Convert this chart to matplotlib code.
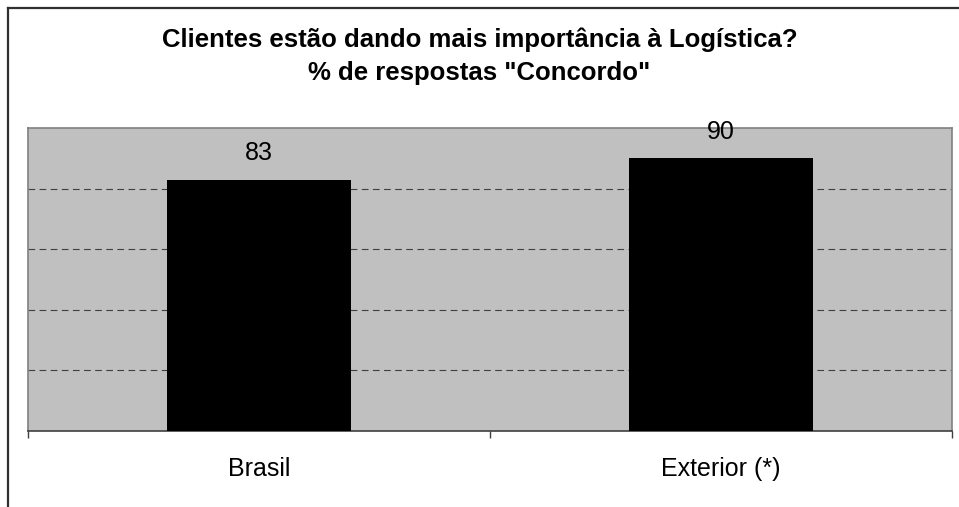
import matplotlib.pyplot as plt
from matplotlib.lines import Line2D

# data
categorias = ["Brasil", "Exterior (*)"]
concordo = [83, 90]
titulo = 'Clientes estão dando mais importância à Logística?\n% de respostas "Concordo"'

plt.rcParams['font.family'] = ['Liberation Sans', 'DejaVu Sans']

fig = plt.figure(figsize=(9.59, 5.07), dpi=100)
ax = fig.add_axes([0.0292, 0.1499, 0.9635, 0.5976])

x = range(len(categorias))
bars = ax.bar(x, concordo, width=0.40, color='black', zorder=3)
for b, v in zip(bars, concordo):
    ax.annotate(str(v), (b.get_x() + b.get_width() / 2, v), xytext=(0, 10.5),
                textcoords='offset points', ha='center', va='bottom',
                fontsize=18, zorder=4, annotation_clip=False)

ax.set_xlim(-0.5, len(categorias) - 0.5)
ax.set_ylim(0, 100)
ax.set_facecolor('#c0c0c0')
ax.set_yticks([20, 40, 60, 80])
ax.yaxis.grid(True, linestyle=(0, (6, 4)), color='#404040', linewidth=0.8, zorder=1)
ax.tick_params(axis='y', left=False, labelleft=False)

ax.set_xticks(list(x))
ax.set_xticklabels(categorias, fontsize=18)
ax.tick_params(axis='x', which='major', length=0, pad=18.5)
ax.set_xticks([-0.5, 0.5, 1.5], minor=True)
ax.tick_params(axis='x', which='minor', length=5, width=1, color='#404040', direction='out')

for side in ['top', 'left', 'right']:
    ax.spines[side].set_color('#808080')
    ax.spines[side].set_linewidth(1.2)
ax.spines['bottom'].set_color('#404040')
ax.spines['bottom'].set_linewidth(1.2)

fig.text(0.5, 1 - 56 / 507, titulo, ha='center', va='center', fontsize=18.5,
         fontweight='bold', linespacing=1.45)

# outer chart border (only top and left visible in the original)
fig.add_artist(Line2D([8 / 959, 8 / 959], [0, 1 - 8 / 507], transform=fig.transFigure,
                      color='#303030', linewidth=1.6))
fig.add_artist(Line2D([8 / 959, 1], [1 - 8 / 507, 1 - 8 / 507], transform=fig.transFigure,
                      color='#303030', linewidth=1.6))

fig.savefig('out.png', dpi=100, facecolor='white')
